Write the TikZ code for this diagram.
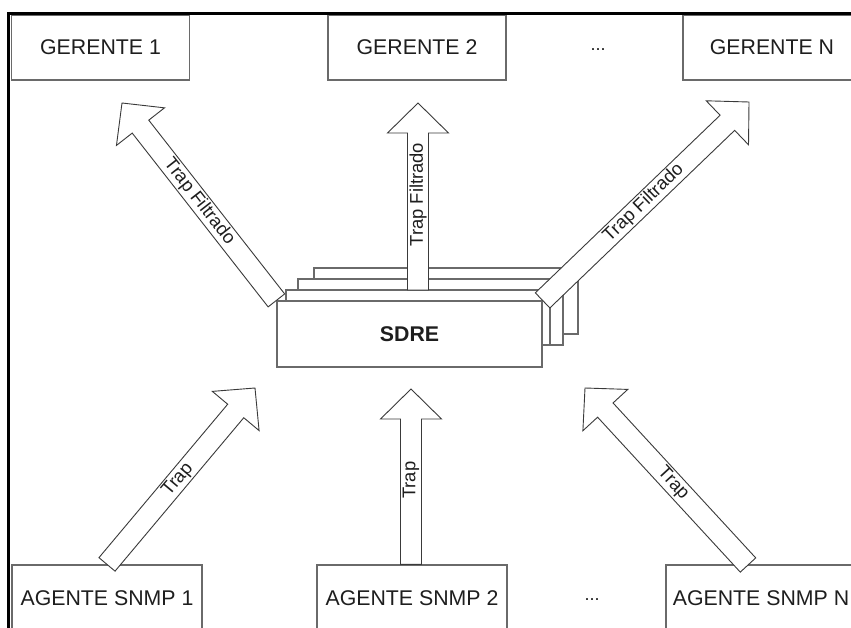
\documentclass[tikz,border=0pt]{standalone}
\usepackage{fontspec}
\setmainfont{Liberation Sans}
\usetikzlibrary{calc}

\definecolor{boxgray}{HTML}{6A6A6A}
\definecolor{arrowgray}{HTML}{3A3A3A}
\definecolor{ink}{HTML}{1E1E1E}

\tikzset{
  x=1pt, y=-1pt,
  box/.style={draw=boxgray, line width=1.2pt, fill=white, inner sep=0pt,
    minimum width=178pt, minimum height=65pt, text=ink,
    font=\fontsize{21.3}{25}\selectfont},
  agent/.style={box, minimum width=190pt, minimum height=66pt},
  stackbox/.style={draw=boxgray, line width=1.2pt, fill=white},
  barrow/.style={draw=arrowgray, line width=0.9pt, fill=white, line join=miter},
  arrowlabel/.style={sloped, inner sep=0pt, text=ink,
    font=\fontsize{18.4}{22}\selectfont},
  dots/.style={text=ink, font=\fontsize{18}{22}\selectfont},
  frameline/.style={draw=black, line width=3pt},
}

% block arrow from #1 to #2 with label #3 placed at fraction #4
\newcommand\blockarrow[4]{%
  \draw[barrow] ($(#1)!10.5pt!90:(#2)$)
    -- ($(#2)!30pt!(#1)!10.5pt!-90:(#1)$)
    -- ($(#2)!30pt!(#1)!30.5pt!-90:(#1)$)
    -- (#2)
    -- ($(#2)!30pt!(#1)!30.5pt!90:(#1)$)
    -- ($(#2)!30pt!(#1)!10.5pt!90:(#1)$)
    -- ($(#1)!10.5pt!-90:(#2)$) -- cycle;
  \path (#1) -- (#2) node[arrowlabel, pos=#4] {#3};}

\begin{document}
\begin{tikzpicture}
\useasboundingbox (0,0) rectangle (851,628);
\clip (0,0) rectangle (851,628);
\fill[white] (0,0) rectangle (851,628);

% managers
\node[box] (g1) at (100.5,47.5) {GERENTE 1};
\node[box] (g2) at (417,47.5) {GERENTE 2};
\node[box] (gN) at (772,47.5) {GERENTE N};
\node[dots] (gdots) at (598,50) {...};

% SNMP agents
\node[agent] (a1) at (107,598) {AGENTE SNMP 1};
\node[agent] (a2) at (412,598) {AGENTE SNMP 2};
\node[agent] (aN) at (761,598) {AGENTE SNMP N};
\node[dots] (adots) at (592,600) {...};

% SDRE stack, back to front
\draw[stackbox] (314,268) rectangle (578,334);
\draw[stackbox] (298,279) rectangle (563,345);
\draw[stackbox] (286,290) rectangle (550,345);
\node[stackbox, minimum width=265pt, minimum height=66pt, inner sep=0pt,
  text=ink, font=\bfseries\fontsize{21.3}{25}\selectfont] (sdre) at (409.5,334) {SDRE};
\coordinate (s2top) at (286,290);

% arrow tips
\coordinate (tA) at (122,103);
\coordinate (tB) at (418,103);
\coordinate (tC) at (749,102);
\coordinate (tD) at (255,388);
\coordinate (tE) at (411,389);
\coordinate (tF) at (585,388);
\coordinate (fTail) at (748,565);

% filtered traps towards the managers
\blockarrow{sdre.north west}{tA}{Trap Filtrado}{0.5}
\blockarrow{tB |- s2top}{tB}{Trap Filtrado}{0.51}
\blockarrow{sdre.north east}{tC}{Trap Filtrado}{0.49}

% traps from the agents
\blockarrow{a1.north}{tD}{Trap}{0.48}
\blockarrow{tE |- a2.north}{tE}{Trap}{0.48}
\blockarrow{fTail}{tF}{Trap}{0.46}

% frame
\draw[frameline] (8,13.5) -- (860,13.5);
\draw[frameline] (8.5,12) -- (8.5,640);
\end{tikzpicture}
\end{document}
